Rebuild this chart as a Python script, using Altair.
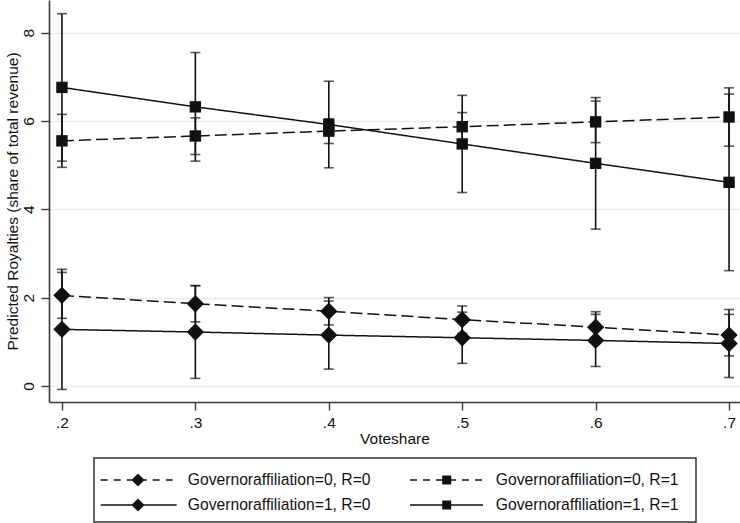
import altair as alt
import pandas as pd

# ---- data ----
voteshare = [0.2, 0.3, 0.4, 0.5, 0.6, 0.7]

# Governoraffiliation=0, R=0 (dashed, diamond)
g0r0_y = [2.05, 1.86, 1.69, 1.50, 1.33, 1.15]
g0r0_lo = [1.53, 1.45, 1.38, 1.19, 0.98, 0.68]
g0r0_hi = [2.57, 2.27, 2.00, 1.81, 1.68, 1.62]

# Governoraffiliation=1, R=0 (solid, diamond)
g1r0_y = [1.28, 1.22, 1.15, 1.09, 1.03, 0.96]
g1r0_lo = [-0.08, 0.17, 0.38, 0.51, 0.44, 0.19]
g1r0_hi = [2.64, 2.27, 1.92, 1.67, 1.62, 1.73]

# Governoraffiliation=0, R=1 (dashed, square)
g0r1_y = [5.55, 5.66, 5.77, 5.87, 5.98, 6.09]
g0r1_lo = [4.95, 5.24, 5.49, 5.55, 5.51, 5.43]
g0r1_hi = [6.15, 6.07, 6.05, 6.19, 6.45, 6.75]

# Governoraffiliation=1, R=1 (solid, square)
g1r1_y = [6.76, 6.32, 5.92, 5.48, 5.04, 4.61]
g1r1_lo = [5.09, 5.09, 4.94, 4.38, 3.55, 2.61]
g1r1_hi = [8.43, 7.55, 6.90, 6.58, 6.53, 6.61]

labels = [
    "Governoraffiliation=0, R=0",
    "Governoraffiliation=0, R=1",
    "Governoraffiliation=1, R=0",
    "Governoraffiliation=1, R=1",
]

FONT = "Liberation Sans"
INK = "#111111"
DASH = [12, 5]
SOLID = [1, 0]

series = [
    (g0r0_y, g0r0_lo, g0r0_hi, DASH, "diamond", 300),
    (g1r0_y, g1r0_lo, g1r0_hi, SOLID, "diamond", 300),
    (g0r1_y, g0r1_lo, g0r1_hi, DASH, "square", 130),
    (g1r1_y, g1r1_lo, g1r1_hi, SOLID, "square", 130),
]

xscale = alt.Scale(domain=[0.1903, 0.7082], nice=False, zero=False)
yscale = alt.Scale(domain=[-0.365, 8.74], nice=False, zero=False)

xaxis = alt.Axis(
    values=voteshare,
    labelExpr="replace(format(datum.value, '.1f'), '0.', '.')",
    title="Voteshare",
    grid=False,
    tickSize=8,
    labelPadding=5,
    titleY=41,
    titleBaseline="alphabetic",
)
yaxis = alt.Axis(
    values=[0, 2, 4, 6, 8],
    format="d",
    title="Predicted Royalties (share of total revenue)",
    grid=True,
    tickSize=8,
    labelAngle=270,
    labelAlign="center",
    labelBaseline="alphabetic",
    labelPadding=8,
    titleAngle=270,
    titleAlign="center",
    titleBaseline="alphabetic",
    titleX=-32,
    titleY=201,
)


def X(f):
    return alt.X(f, scale=xscale, axis=xaxis)


def Y(f):
    return alt.Y(f, scale=yscale, axis=yaxis)


layers = []
for ys, lo, hi, dash, shape, size in series:
    df = pd.DataFrame({"v": voteshare, "y": ys, "lo": lo, "hi": hi})
    base = alt.Chart(df)
    layers.append(
        base.mark_rule(color=INK, strokeWidth=1.6).encode(x=X("v:Q"), y=Y("lo:Q"), y2="hi:Q")
    )
    for col in ["lo", "hi"]:
        layers.append(
            base.mark_tick(color=INK, orient="horizontal", size=10, thickness=1.6).encode(
                x=X("v:Q"), y=Y(f"{col}:Q")
            )
        )
    layers.append(
        base.mark_line(color=INK, strokeWidth=1.5, strokeDash=dash).encode(x=X("v:Q"), y=Y("y:Q"))
    )
    layers.append(
        base.mark_point(color=INK, filled=True, opacity=1, shape=shape, size=size).encode(
            x=X("v:Q"), y=Y("y:Q")
        )
    )

# ---- legend (drawn below the plot, positions in pixels relative to plot area) ----
one = pd.DataFrame({"k": [0]})
layers.append(
    alt.Chart(one).mark_rect(fill="white", stroke="#333333", strokeWidth=1.5).encode(
        x=alt.value(45), x2=alt.value(647), y=alt.value(458), y2=alt.value(522)
    )
)
legend_items = [
    (labels[0], DASH, "diamond", 170, 0, 480),
    (labels[1], DASH, "square", 81, 1, 480),
    (labels[2], SOLID, "diamond", 170, 0, 505),
    (labels[3], SOLID, "square", 81, 1, 505),
]
for lab, dash, shape, size, col, yy in legend_items:
    x0 = 51.7 if col == 0 else 361
    x1 = 127.7 if col == 0 else 434
    xm = 89 if col == 0 else 397.7
    xt = 138.7 if col == 0 else 446.7
    ldash = [7, 6] if dash == DASH else SOLID
    c = alt.Chart(one)
    layers.append(
        c.mark_rule(color=INK, strokeWidth=1.5, strokeDash=ldash).encode(
            x=alt.value(x0), x2=alt.value(x1), y=alt.value(yy)
        )
    )
    layers.append(
        c.mark_point(color=INK, filled=True, opacity=1, shape=shape, size=size).encode(
            x=alt.value(xm), y=alt.value(yy)
        )
    )
    layers.append(
        c.mark_text(align="left", baseline="middle", font=FONT, fontSize=15.7, color=INK).encode(
            x=alt.value(xt), y=alt.value(yy), text=alt.value(lab)
        )
    )

chart = (
    alt.layer(*layers)
    .properties(
        width=691,
        height=402,
        padding={"left": 49, "top": 0, "right": 0, "bottom": 121},
        autosize=alt.AutoSizeParams(type="none"),
        background="white",
    )
    .configure_view(stroke=None)
    .configure_axis(
        labelFont=FONT,
        titleFont=FONT,
        labelFontSize=15.5,
        titleFontSize=15.5,
        labelColor=INK,
        titleColor=INK,
        titleFontWeight="normal",
        domainColor="#3a3a3a",
        domainWidth=1.6,
        tickColor="#3a3a3a",
        tickWidth=1.4,
        gridColor="#ebebeb",
        gridWidth=1.4,
    )
)

chart.save("out.html", embed_options={"renderer": "svg", "actions": False})
